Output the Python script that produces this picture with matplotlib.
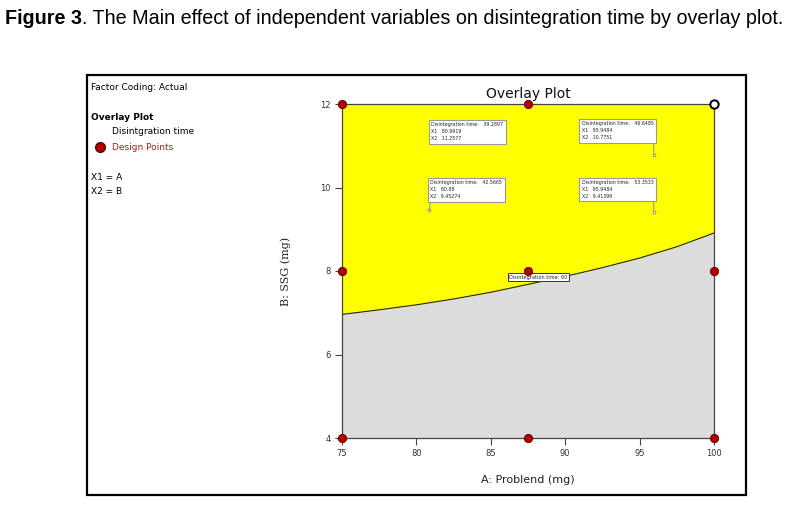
import matplotlib.pyplot as plt
from matplotlib.patches import Rectangle
import numpy as np

# boundary of the 60 s contour (B at each A)
bound_a = [75, 77.5, 80, 82.5, 85, 87.5, 90, 92.5, 95, 97.5, 100]
bound_b = [6.96, 7.07, 7.19, 7.33, 7.49, 7.68, 7.87, 8.08, 8.31, 8.58, 8.91]

# design points
design_a = [75, 75, 75, 87.5, 87.5, 87.5, 100, 100]
design_b = [4, 8, 12, 4, 8, 12, 4, 8]
open_a, open_b = 100, 12

# flags: disintegration time, X1, X2
flag_time = ['39.2897', '46.6485', '42.5665', '53.3533']
flag_x1 = [80.9919, 95.9484, 80.88, 95.9484]
flag_x2 = [11.2577, 10.7751, 9.45274, 9.41399]
flag_x1_txt = ['80.9919', '95.9484', '80.88', '95.9484']
flag_x2_txt = ['11.2577', '10.7751', '9.45274', '9.41399']

xticks = [75, 80, 85, 90, 95, 100]
yticks = [4, 6, 8, 10, 12]

fig = plt.figure(figsize=(7.93, 5.05), dpi=100)
ax = fig.add_axes([342/793, 1-438/505, 372/793, 334/505])

a_fill = np.array(bound_a)
b_fill = np.array(bound_b)
ax.fill_between(a_fill, 4, b_fill, color='#dcdcdc', lw=0)
ax.fill_between(a_fill, b_fill, 12, color='#ffff00', lw=0)
ax.plot(a_fill, b_fill, color='#222222', lw=0.8)

ax.set_xlim(75, 100)
ax.set_ylim(4, 12)
ax.set_xticks(xticks)
ax.set_yticks(yticks)
ax.tick_params(direction='out', length=5, width=0.8, color='#444444',
               labelsize=6, labelcolor='#333333', pad=3)
for s in ax.spines.values():
    s.set_color('#444444')
    s.set_linewidth(0.9)

ax.set_title('Overlay Plot', fontsize=10, pad=4, color='#111111')
ax.set_xlabel('A: Problend (mg)', fontsize=8, color='#222222', labelpad=12)
ax.set_ylabel('B: SSG (mg)', fontsize=8, color='#222222', labelpad=21,
              family='DejaVu Serif')

ax.scatter(design_a, design_b, s=36, color='#b00000', edgecolor='#600000',
           lw=0.6, zorder=5, clip_on=False)
ax.scatter([open_a], [open_b], s=36, color='white', edgecolor='black',
           lw=1.4, zorder=5, clip_on=False)

# flag boxes
layout = [('left', 'center', (0, 3), (0, 0.5)),
          ('right', 'bottom', (0, 15), (1, 0)),
          ('left', 'bottom', (1, 11), (0, 0)),
          ('right', 'bottom', (0, 13), (1, 0))]
for i in range(4):
    ha, va, off, rp = layout[i]
    txt = ('Disintegration time:   %s\nX1   %s\nX2   %s'
           % (flag_time[i], flag_x1_txt[i], flag_x2_txt[i]))
    ax.annotate(txt, xy=(flag_x1[i], flag_x2[i]), xytext=off,
                textcoords='offset pixels', ha=ha, va=va, fontsize=3.4,
                multialignment='left', linespacing=1.5, color='#222222',
                bbox=dict(boxstyle='square,pad=0.5', fc='white',
                          ec='#999999', lw=0.8),
                arrowprops=dict(arrowstyle='-', color='#999999', lw=0.8,
                                relpos=rp, shrinkA=0, shrinkB=0))
    ax.plot(flag_x1[i], flag_x2[i], 'o', ms=2, mfc='white', mec='#888888',
            mew=0.6)

# contour label
ax.annotate('Disintegration time: 60', xy=(88.2, np.interp(88.2, bound_a, bound_b)),
            xytext=(0, 5), textcoords='offset pixels', ha='center', va='center',
            fontsize=3.6, color='#222222',
            bbox=dict(boxstyle='square,pad=0.3', fc='white', ec='#333333', lw=0.7))

# left legend panel
fig.text(91/793, 1-88/505, 'Factor Coding: Actual', fontsize=6.5, va='center')
fig.text(91/793, 1-117/505, 'Overlay Plot', fontsize=6.5, va='center',
         fontweight='bold')
fig.text(112/793, 1-132/505, 'Disintgration time', fontsize=6.5, va='center')
fig.text(112/793, 1-147/505, 'Design Points', fontsize=6.5, va='center',
         color='#a02020')
fig.lines.append(plt.Line2D([100/793], [1-147/505], marker='o', ms=7,
                            color='#b00000', mec='#600000',
                            transform=fig.transFigure))
fig.text(91/793, 1-177/505, 'X1 = A', fontsize=6.5, va='center')
fig.text(91/793, 1-192/505, 'X2 = B', fontsize=6.5, va='center')

# black frame
fig.patches.append(Rectangle((87/793, 1-495/505), 659/793, 420/505,
                             transform=fig.transFigure, fill=False,
                             ec='black', lw=1.6))

# caption
t1 = fig.text(5/793, 1-19/505, 'Figure 3', fontsize=14.2, fontweight='bold',
              family='Liberation Sans', va='center')
fig.add_artist(plt.Annotation('. The Main effect of independent variables on '
                              'disintegration time by overlay plot.',
                              xy=(1, 0.5), xycoords=t1, va='center', ha='left',
                              fontsize=14.2, family='Liberation Sans'))

fig.savefig('out.png', dpi=100)
